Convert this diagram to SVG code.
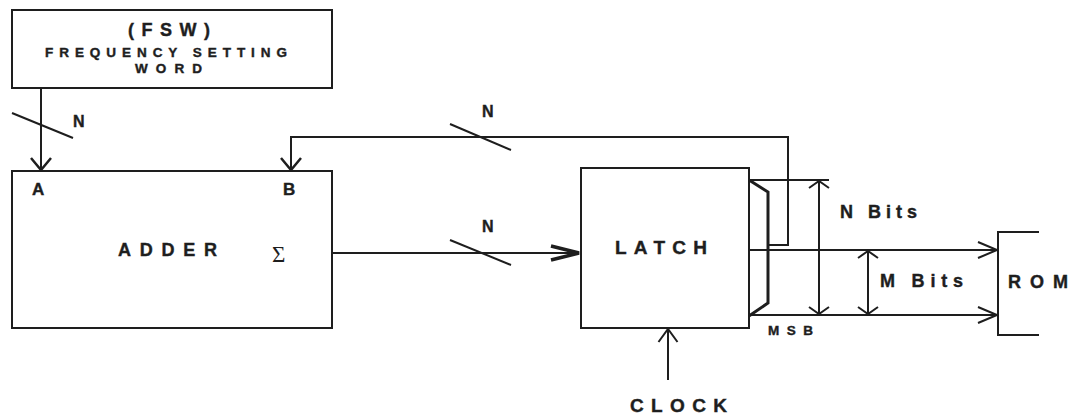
<svg xmlns="http://www.w3.org/2000/svg" width="1076" height="416" viewBox="0 0 1076 416">
<style>
.box{fill:none;stroke:#1e1e1e;stroke-width:2}
.ln{fill:none;stroke:#1e1e1e;stroke-width:2}
.thick{fill:none;stroke:#1e1e1e;stroke-width:3;stroke-linejoin:miter}
.t{font-family:"Liberation Sans",Arial,sans-serif;font-weight:bold;fill:#1e1e1e;stroke:#1e1e1e;stroke-width:0.4}
.sig{font-family:"Liberation Serif","Times New Roman",serif;fill:#1e1e1e}
</style>
<defs>
<marker id="ahA" markerUnits="userSpaceOnUse" viewBox="-14 -12 16 24" refX="0" refY="0" markerWidth="16" markerHeight="24" orient="auto">
<path d="M-12,-10 L0,0 L-12,10" fill="none" stroke="#1e1e1e" stroke-width="2.5"/>
</marker>
<marker id="ahR" markerUnits="userSpaceOnUse" viewBox="-21 -10 23 20" refX="0" refY="0" markerWidth="23" markerHeight="20" orient="auto">
<path d="M-19,-8 L0,0 L-19,8" fill="none" stroke="#1e1e1e" stroke-width="2"/>
</marker>
<marker id="ahL" markerUnits="userSpaceOnUse" viewBox="-32 -10 34 20" refX="0" refY="0" markerWidth="34" markerHeight="20" orient="auto">
<path d="M-28,-7 L0,0 L-28,7" fill="none" stroke="#1e1e1e" stroke-width="3.5"/>
</marker>
<marker id="ahF" markerUnits="userSpaceOnUse" viewBox="-10 -12 12 24" refX="0" refY="0" markerWidth="12" markerHeight="24" orient="auto-start-reverse">
<path d="M-7,-10 L0,0 L-7,10" fill="none" stroke="#1e1e1e" stroke-width="2"/>
</marker>
<marker id="ahC" markerUnits="userSpaceOnUse" viewBox="-15 -11 17 22" refX="0" refY="0" markerWidth="17" markerHeight="22" orient="auto">
<path d="M-13,-9.5 L0,0 L-13,9.5" fill="none" stroke="#1e1e1e" stroke-width="2"/>
</marker>
</defs>
<rect width="1076" height="416" fill="#ffffff"/>

<g id="fsw">
<rect class="box" x="12" y="10" width="320" height="78"/>
<text class="t" x="128" y="36" font-size="18" textLength="82" lengthAdjust="spacing">(FSW)</text>
<text class="t" x="45" y="57" font-size="13.5" textLength="242" lengthAdjust="spacing">FREQUENCY SETTING</text>
<text class="t" x="135" y="73" font-size="13.5" textLength="67" lengthAdjust="spacing">WORD</text>
</g>

<g id="adder">
<rect class="box" x="12" y="171" width="320" height="157"/>
<text class="t" x="32" y="195" font-size="17">A</text>
<text class="t" x="283" y="195" font-size="17">B</text>
<text class="t" x="118" y="256" font-size="18" textLength="99" lengthAdjust="spacing">ADDER</text>
<text class="sig" x="272" y="262" font-size="23">Σ</text>
</g>

<g id="latch">
<rect class="box" x="581" y="168" width="168" height="160"/>
<text class="t" x="615" y="254" font-size="19" textLength="92" lengthAdjust="spacing">LATCH</text>
</g>

<g id="rom">
<path class="box" d="M1039,232 L998,232 L998,335 L1039,335"/>
<text class="t" x="1008" y="288" font-size="18" textLength="60" lengthAdjust="spacing">ROM</text>
</g>

<g id="connectors">
<line class="ln" x1="41" y1="88" x2="41" y2="170" marker-end="url(#ahA)"/>
<line class="ln" x1="12" y1="113" x2="73" y2="138"/>
<text class="t" x="73" y="127" font-size="16">N</text>
<polyline class="ln" points="768,245 788,245 788,137 291,137 291,170" marker-end="url(#ahA)"/>
<line class="ln" x1="450" y1="124" x2="511" y2="150"/>
<text class="t" x="482" y="117" font-size="16">N</text>
<line class="ln" x1="332" y1="253" x2="579" y2="253" marker-end="url(#ahL)"/>
<line class="ln" x1="450" y1="240" x2="511" y2="265"/>
<text class="t" x="482" y="232" font-size="16">N</text>
<polyline class="thick" points="749,180 768,192 768,303 749,316"/>
<line class="ln" x1="749" y1="180" x2="829" y2="180"/>
<line class="ln" x1="749" y1="250" x2="997" y2="250" marker-end="url(#ahR)"/>
<line class="ln" x1="749" y1="315" x2="997" y2="315" marker-end="url(#ahR)"/>
<line class="ln" x1="819" y1="181" x2="819" y2="314" marker-start="url(#ahF)" marker-end="url(#ahF)"/>
<text class="t" x="840" y="218" font-size="18" textLength="77" lengthAdjust="spacing">N Bits</text>
<line class="ln" x1="868" y1="251" x2="868" y2="314" marker-start="url(#ahF)" marker-end="url(#ahF)"/>
<text class="t" x="880" y="287" font-size="18" textLength="83" lengthAdjust="spacing">M Bits</text>
<text class="t" x="768" y="335" font-size="13.5" textLength="45" lengthAdjust="spacing">MSB</text>
<line class="ln" x1="668" y1="380" x2="668" y2="329" marker-end="url(#ahC)"/>
<text class="t" x="630" y="412" font-size="19" textLength="97" lengthAdjust="spacing">CLOCK</text>
</g>
</svg>
